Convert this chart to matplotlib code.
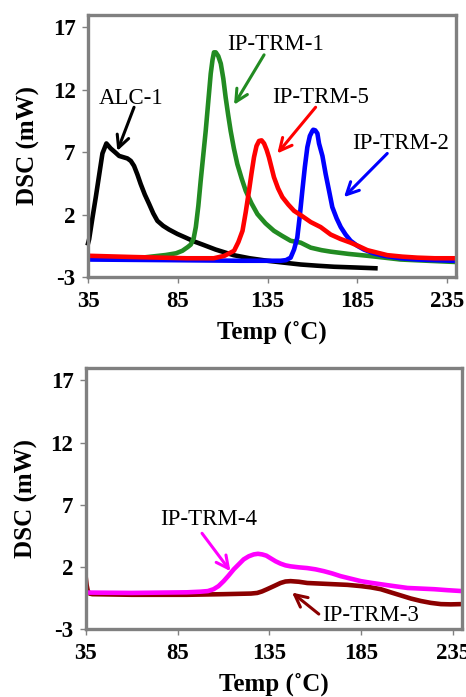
import matplotlib
matplotlib.use("Agg")
import matplotlib.pyplot as plt

# ---- data ----
alc1_x = [35, 35.6, 37.5, 39.3, 41.2, 43.0, 45.2, 47.6, 50.0, 52.3, 54.6, 56.9, 58.8, 60.6, 62.5, 64.3, 66.6, 69.0, 71.3, 73.6, 76.8, 80.1, 84.7, 89.4, 94.0, 98.7, 106, 116, 125, 134.8, 144, 153.4, 163, 172, 184, 195]
alc1_y = [-0.3, 0.03, 1.8, 3.4, 5.2, 6.9, 7.7, 7.3, 7.0, 6.7, 6.6, 6.5, 6.3, 5.9, 5.2, 4.45, 3.6, 2.85, 2.1, 1.5, 1.1, 0.8, 0.45, 0.15, -0.15, -0.4, -0.8, -1.25, -1.5, -1.7, -1.85, -2.0, -2.1, -2.18, -2.24, -2.3]

trm1_x = [35, 50, 65, 78.2, 84, 87.5, 90.5, 92.2, 93.8, 95.0, 96.4, 97.7, 99.1, 100.5, 101.9, 103.3, 104.3, 105.1, 106.1, 107.5, 108.9, 110.3, 111.6, 113.0, 114.4, 116.2, 118.1, 120.5, 122.8, 126.0, 129.3, 133.8, 138.5, 143.0, 147.8, 153.4, 159, 165, 170.1, 180, 190.5, 200, 209, 224, 240]
trm1_y = [-1.5, -1.5, -1.45, -1.24, -1.1, -0.9, -0.6, -0.4, 0.1, 1.0, 2.7, 4.7, 6.7, 8.7, 11.0, 13.3, 14.4, 15.0, 15.0, 14.7, 14.1, 12.9, 11.4, 10.0, 8.7, 7.3, 6.05, 4.9, 3.9, 2.9, 2.04, 1.3, 0.7, 0.3, -0.1, -0.25, -0.65, -0.85, -0.97, -1.15, -1.3, -1.45, -1.6, -1.7, -1.8]

trm5_x = [35, 60, 90, 105, 111, 116.3, 118.7, 121.0, 122.8, 124.6, 126.0, 127.4, 128.8, 130.2, 131.6, 133.0, 134.4, 135.7, 137.1, 138.5, 140.8, 143.2, 146.5, 149.7, 154, 159, 164.5, 170.1, 175.5, 181.2, 186, 190.5, 196, 201.6, 210, 218.3, 228, 240]
trm5_y = [-1.3, -1.4, -1.5, -1.5, -1.3, -0.9, -0.2, 0.7, 2.2, 3.9, 5.3, 6.6, 7.5, 7.9, 7.95, 7.7, 7.2, 6.6, 5.8, 5.0, 4.1, 3.4, 2.8, 2.3, 1.9, 1.4, 1.0, 0.4, 0.05, -0.25, -0.55, -0.85, -1.05, -1.25, -1.37, -1.45, -1.5, -1.5]

trm2_x = [35, 80, 120, 142.2, 145.2, 147.8, 149.7, 151.5, 152.9, 154.3, 155.7, 157.1, 158.5, 159.9, 160.4, 161.5, 162.7, 163.6, 165.5, 167.3, 169.2, 171.0, 173.4, 175.7, 178.4, 181.2, 184.9, 188.6, 194, 199.7, 209, 218.3, 228, 238.5, 240]
trm2_y = [-1.6, -1.65, -1.7, -1.7, -1.65, -1.45, -0.8, 0.15, 1.9, 3.9, 5.8, 7.4, 8.3, 8.7, 8.8, 8.75, 8.5, 7.7, 6.7, 5.25, 3.9, 2.6, 1.7, 1.0, 0.4, -0.1, -0.5, -0.8, -1.1, -1.3, -1.5, -1.6, -1.65, -1.7, -1.7]

trm4_x = [35, 60, 90, 97.4, 101.5, 104.6, 107.3, 110.1, 112.8, 115.6, 118.3, 121.0, 123.8, 126.5, 128.8, 131.1, 133.4, 135.6, 138.4, 141.1, 143.8, 146.6, 151.1, 155.7, 160.2, 164.8, 169.3, 173.9, 179.4, 184.9, 190.3, 195.8, 203, 210.4, 217.7, 225, 232.3, 240]
trm4_y = [-0.07, -0.1, -0.05, 0.0, 0.05, 0.2, 0.45, 0.85, 1.3, 1.8, 2.2, 2.6, 2.85, 3.0, 3.05, 3.0, 2.9, 2.7, 2.45, 2.26, 2.12, 2.04, 1.96, 1.9, 1.8, 1.65, 1.47, 1.25, 1.05, 0.85, 0.72, 0.6, 0.45, 0.3, 0.25, 0.2, 0.12, 0.05]

trm3_x = [35, 35.4, 36.0, 37.0, 38.5, 60, 90, 110, 125, 128.4, 131.0, 133.8, 137.5, 141.1, 143.8, 146.6, 151.1, 155.7, 163, 170.3, 177.6, 184.9, 190.3, 195.8, 201.2, 206.7, 212.2, 217.7, 223.1, 228.6, 234, 239.6]
trm3_y = [1.0, 0.5, 0.05, -0.15, -0.2, -0.25, -0.25, -0.2, -0.15, -0.1, 0.02, 0.2, 0.45, 0.7, 0.82, 0.85, 0.8, 0.7, 0.65, 0.6, 0.55, 0.45, 0.35, 0.2, -0.05, -0.3, -0.55, -0.75, -0.9, -1.0, -1.02, -1.0]

xticks = [35, 85, 135, 185, 235]
yticks = [-3, 2, 7, 12, 17]
xlim = (35, 240)
ylim = (-3, 18)

SERIF = ["Liberation Serif", "DejaVu Serif"]
FRAME = "#808080"

fig = plt.figure(figsize=(4.66, 6.97), dpi=100)
ax1 = fig.add_axes([0.189, 0.6026, 0.790, 0.376])
ax2 = fig.add_axes([0.1845, 0.0976, 0.8065, 0.3744])

def style(ax):
    ax.set_xlim(*xlim)
    ax.set_ylim(*ylim)
    ax.set_xticks(xticks)
    ax.set_yticks(yticks)
    ax.set_xticklabels([str(t) for t in xticks], fontfamily=SERIF, fontweight="bold", fontsize=16.5)
    ax.set_yticklabels([str(t) for t in yticks], fontfamily=SERIF, fontweight="bold", fontsize=16.5)
    for s in ax.spines.values():
        s.set_color(FRAME)
        s.set_linewidth(2.4)
    ax.tick_params(direction="out", length=4, width=1, color=FRAME)
    ax.tick_params(axis="x", pad=6)
    ax.tick_params(axis="y", pad=5)
    ax.set_xlabel("Temp (˚C)", fontfamily=SERIF, fontweight="bold", fontsize=18, labelpad=6)
    ax.set_ylabel("DSC (mW)", fontfamily=SERIF, fontweight="bold", fontsize=18, labelpad=9)

style(ax1)
style(ax2)

LW = 3.3
ax1.plot(alc1_x, alc1_y, color="black", lw=LW, clip_on=False)
ax1.plot(trm1_x, trm1_y, color="#228B22", lw=LW)
ax1.plot(trm2_x, trm2_y, color="#0000FF", lw=LW)
ax1.plot(trm5_x, trm5_y, color="#FF0000", lw=LW)

ax2.plot(trm3_x, trm3_y, color="#8B0000", lw=LW)
ax2.plot(trm4_x, trm4_y, color="#FF00FF", lw=LW)

def note(ax, text, xy, xytext, tail, color):
    ax.annotate("", xy=xy, xytext=tail,
                arrowprops=dict(arrowstyle="->", color=color, lw=2.2, mutation_scale=22, shrinkA=0, shrinkB=0))
    ax.text(xytext[0], xytext[1], text, fontfamily=SERIF, fontsize=16.5, ha="center", va="center", color="black")

note(ax1, "ALC-1", (51.3, 7.1), (58.7, 11.3), (60.6, 10.6), "black")
note(ax1, "IP-TRM-1", (116.3, 10.8), (139.5, 15.6), (133, 14.8), "#228B22")
note(ax1, "IP-TRM-5", (140.4, 6.9), (164.5, 11.4), (161.7, 10.6), "#FF0000")
note(ax1, "IP-TRM-2", (177.5, 3.4), (209, 7.7), (201.6, 6.9), "#0000FF")

note(ax2, "IP-TRM-4", (113.8, 1.65), (101.9, 5.8), (98.3, 4.7), "#FF00FF")
note(ax2, "IP-TRM-3", (147.4, -0.07), (190.3, -1.9), (162, -1.8), "#8B0000")

fig.savefig("out.png", dpi=100)
